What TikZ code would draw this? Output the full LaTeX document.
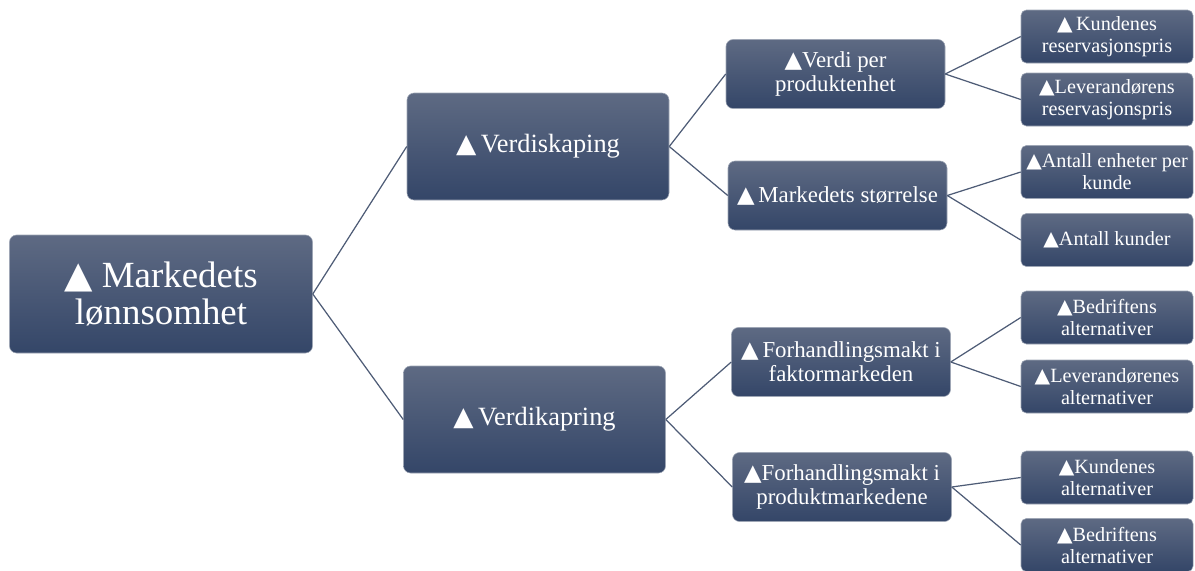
\documentclass[tikz,border=0pt]{standalone}
\usepackage{fontspec}
\setmainfont{Liberation Serif}
\newfontfamily\trifont{DejaVu Sans}
\newcommand\tri{{\trifont ▲}}
\usetikzlibrary{positioning}
\definecolor{BoxTop}{RGB}{94, 106, 131}
\definecolor{BoxBottom}{RGB}{52, 70, 104}
\definecolor{LinkSlate}{RGB}{78, 92, 118}

\begin{document}
\begin{tikzpicture}[
    box/.style={rounded corners=4pt, top color=BoxTop, bottom color=BoxBottom, draw=BoxTop!60!white, line width=0.3pt, text=white, align=center, inner sep=2pt},
    rootbox/.style={box, minimum width=6.06cm, minimum height=2.36cm, font=\fontsize{21}{21}\selectfont},
    midbox/.style={box, minimum width=5.24cm, minimum height=2.14cm, font=\fontsize{15}{17}\selectfont},
    subbox/.style={box, minimum width=4.38cm, minimum height=1.38cm, font=\fontsize{13}{13.6}\selectfont},
    leafbox/.style={box, rounded corners=3pt, minimum width=3.44cm, minimum height=1.06cm, font=\fontsize{11.5}{12.5}\selectfont},
    link/.style={LinkSlate, line width=0.7pt}
]
    \useasboundingbox (0,0) rectangle (23.9,-11.4);

    % Root
    \node[rootbox] (root) at (3.22,-5.88) {\tri\ Markedets\\lønnsomhet};

    % Second level
    \node[midbox] (skaping) at (10.76,-2.93) {\tri\,Verdiskaping};
    \node[midbox] (kapring) at (10.69,-8.39) {\tri\,Verdikapring};

    % Third level
    \node[subbox] (verdi) at (16.71,-1.48) {\tri Verdi per\\produktenhet};
    \node[subbox] (storrelse) at (16.75,-3.91) {\tri\,Markedets størrelse};
    \node[subbox] (faktor) at (16.82,-7.24) {\tri\,Forhandlingsmakt i\\faktormarkeden};
    \node[subbox] (produkt) at (16.84,-9.74) {\tri Forhandlingsmakt i\\produktmarkedene};

    % Leaves
    \node[leafbox] (kres) at (22.14,-0.73) {\tri\,Kundenes\\reservasjonspris};
    \node[leafbox] (lres) at (22.14,-1.99) {\tri Leverandørens\\reservasjonspris};
    \node[leafbox] (enheter) at (22.14,-3.44) {\tri Antall enheter per\\kunde};
    \node[leafbox] (kunder) at (22.14,-4.80) {\tri Antall kunder};
    \node[leafbox] (balt1) at (22.14,-6.35) {\tri Bedriftens\\alternativer};
    \node[leafbox] (lalt) at (22.14,-7.73) {\tri Leverandørenes\\alternativer};
    \node[leafbox] (kalt) at (22.14,-9.55) {\tri Kundenes\\alternativer};
    \node[leafbox] (balt2) at (22.14,-10.90) {\tri Bedriftens\\alternativer};

    % Connectors
    \draw[link] (root.east) -- (skaping.west);
    \draw[link] (root.east) -- (kapring.west);
    \draw[link] (skaping.east) -- (verdi.west);
    \draw[link] (skaping.east) -- (storrelse.west);
    \draw[link] (kapring.east) -- (faktor.west);
    \draw[link] (kapring.east) -- (produkt.west);
    \draw[link] (verdi.east) -- (kres.west);
    \draw[link] (verdi.east) -- (lres.west);
    \draw[link] (storrelse.east) -- (enheter.west);
    \draw[link] (storrelse.east) -- (kunder.west);
    \draw[link] (faktor.east) -- (balt1.west);
    \draw[link] (faktor.east) -- (lalt.west);
    \draw[link] (produkt.east) -- (kalt.west);
    \draw[link] (produkt.east) -- (balt2.west);
\end{tikzpicture}
\end{document}
